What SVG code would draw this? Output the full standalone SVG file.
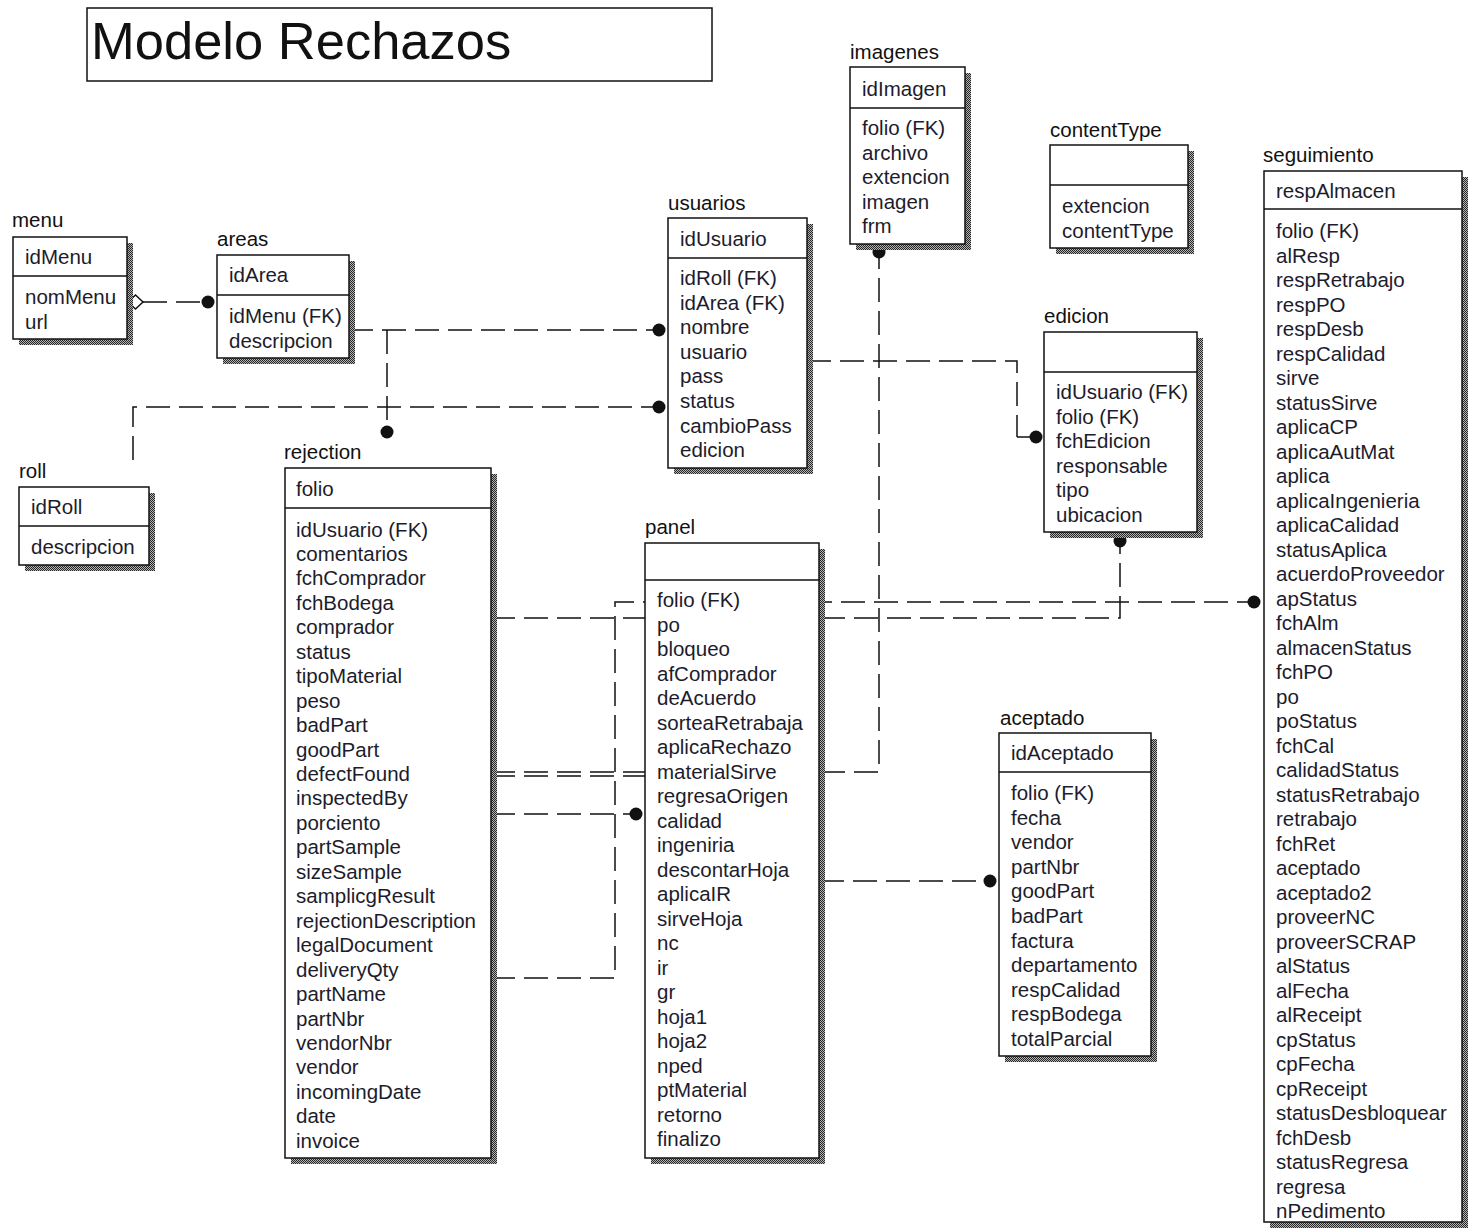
<svg xmlns="http://www.w3.org/2000/svg" width="1475" height="1232" viewBox="0 0 1475 1232">
  <defs>
    <!-- dithered drop shadow used behind every entity box -->
    <pattern id="dither" width="2" height="2" patternUnits="userSpaceOnUse">
      <rect width="2" height="2" fill="#b4b4b4"/>
      <rect width="1" height="1" fill="#262626"/>
      <rect x="1" y="1" width="1" height="1" fill="#262626"/>
    </pattern>
    <style>
      .box { fill: #ffffff; stroke: #111111; stroke-width: 1.5; }
      .sh { fill: url(#dither); }
      .div { stroke: #111111; stroke-width: 1.5; }
      .t { font-family: "Liberation Sans", Arial, sans-serif; font-size: 20.5px; fill: #1c1c2c; }
      .lbl { font-family: "Liberation Sans", Arial, sans-serif; font-size: 20.5px; fill: #111111; }
      .rel { fill: none; stroke: #111111; stroke-width: 1.5; stroke-dasharray: 24 9; }
      .dot { fill: #111111; }
      .dia { fill: #ffffff; stroke: #111111; stroke-width: 1.5; }
      .title { font-family: "Liberation Sans", Arial, sans-serif; font-size: 52.5px; fill: #111111; }
    </style>
  </defs>

  <rect width="1475" height="1232" fill="#ffffff"/>

  <!-- title -->
  <g id="title">
    <rect x="87" y="8" width="625" height="73" fill="#ffffff" stroke="#111111" stroke-width="1.5"/>
    <text class="title" x="91" y="59">Modelo Rechazos</text>
  </g>

  <!-- relationships -->
  <g id="connectors">
    <!-- menu -> areas -->
    <line class="rel" x1="143" y1="302" x2="203" y2="302"/>
    <polygon class="dia" points="128,302 135.5,295 143,302 135.5,309"/>
    <circle class="dot" cx="208" cy="302" r="6.5"/>
    <!-- areas -> usuarios -->
    <line class="rel" x1="349" y1="330" x2="654" y2="330"/>
    <circle class="dot" cx="659" cy="330" r="6.5"/>
    <!-- usuarios -> rejection -->
    <line class="rel" x1="387" y1="330" x2="387" y2="427"/>
    <circle class="dot" cx="387" cy="432" r="6.5"/>
    <!-- roll -> usuarios -->
    <polyline class="rel" points="133,460 133,407 654,407"/>
    <circle class="dot" cx="659" cy="407" r="6.5"/>
    <!-- usuarios -> edicion -->
    <polyline class="rel" points="807,361 1017,361 1017,437"/>
    <line x1="1017" y1="437" x2="1030" y2="437" stroke="#111111" stroke-width="1.5"/>
    <circle class="dot" cx="1036" cy="437" r="6.5"/>
    <!-- rejection -> imagenes -->
    <polyline class="rel" points="491,772 879,772 879,257"/>
    <circle class="dot" cx="879" cy="252" r="6.5"/>
    <line class="rel" x1="491" y1="776" x2="645" y2="776"/>
    <!-- rejection -> edicion -->
    <polyline class="rel" points="491,618 1120,618 1120,546"/>
    <circle class="dot" cx="1120" cy="541" r="6.5"/>
    <!-- rejection -> seguimiento -->
    <polyline class="rel" points="491,978 615,978 615,602 1249,602"/>
    <circle class="dot" cx="1254" cy="602" r="6.5"/>
    <!-- rejection -> panel -->
    <line class="rel" x1="491" y1="814" x2="631" y2="814"/>
    <circle class="dot" cx="636" cy="814" r="6.5"/>
    <!-- panel -> aceptado -->
    <line class="rel" x1="820" y1="881" x2="985" y2="881"/>
    <circle class="dot" cx="990" cy="881" r="6.5"/>
  </g>

  <!-- entities -->
  <g id="menu">
    <text class="lbl" x="12" y="227">menu</text>
    <rect class="sh" x="19" y="243" width="114" height="102"/>
    <rect class="box" x="13" y="237" width="114" height="102"/>
    <line class="div" x1="13" y1="276" x2="127" y2="276"/>
    <text class="t" x="25" y="264">idMenu</text>
    <text class="t" x="25" y="304">nomMenu<tspan x="25" dy="24.5">url</tspan></text>
  </g>

  <g id="areas">
    <text class="lbl" x="217" y="246">areas</text>
    <rect class="sh" x="223" y="261" width="132" height="103"/>
    <rect class="box" x="217" y="255" width="132" height="103"/>
    <line class="div" x1="217" y1="295" x2="349" y2="295"/>
    <text class="t" x="229" y="282">idArea</text>
    <text class="t" x="229" y="323">idMenu (FK)<tspan x="229" dy="24.5">descripcion</tspan></text>
  </g>

  <g id="roll">
    <text class="lbl" x="19" y="478">roll</text>
    <rect class="sh" x="25" y="493" width="130" height="78"/>
    <rect class="box" x="19" y="487" width="130" height="78"/>
    <line class="div" x1="19" y1="526" x2="149" y2="526"/>
    <text class="t" x="31" y="514">idRoll</text>
    <text class="t" x="31" y="554">descripcion</text>
  </g>

  <g id="usuarios">
    <text class="lbl" x="668" y="210">usuarios</text>
    <rect class="sh" x="674" y="224" width="139" height="250"/>
    <rect class="box" x="668" y="218" width="139" height="250"/>
    <line class="div" x1="668" y1="258" x2="807" y2="258"/>
    <text class="t" x="680" y="246">idUsuario</text>
    <text class="t" x="680" y="285">idRoll (FK)<tspan x="680" dy="24.6">idArea (FK)</tspan><tspan x="680" dy="24.6">nombre</tspan><tspan x="680" dy="24.6">usuario</tspan><tspan x="680" dy="24.6">pass</tspan><tspan x="680" dy="24.6">status</tspan><tspan x="680" dy="24.6">cambioPass</tspan><tspan x="680" dy="24.6">edicion</tspan></text>
  </g>

  <g id="imagenes">
    <text class="lbl" x="850" y="59">imagenes</text>
    <rect class="sh" x="856" y="73" width="115" height="177"/>
    <rect class="box" x="850" y="67" width="115" height="177"/>
    <line class="div" x1="850" y1="108" x2="965" y2="108"/>
    <text class="t" x="862" y="96">idImagen</text>
    <text class="t" x="862" y="135">folio (FK)<tspan x="862" dy="24.5">archivo</tspan><tspan x="862" dy="24.5">extencion</tspan><tspan x="862" dy="24.5">imagen</tspan><tspan x="862" dy="24.5">frm</tspan></text>
  </g>

  <g id="contentType">
    <text class="lbl" x="1050" y="137">contentType</text>
    <rect class="sh" x="1056" y="151" width="138" height="103"/>
    <rect class="box" x="1050" y="145" width="138" height="103"/>
    <line class="div" x1="1050" y1="185" x2="1188" y2="185"/>
    <text class="t" x="1062" y="213">extencion<tspan x="1062" dy="24.5">contentType</tspan></text>
  </g>

  <g id="edicion">
    <text class="lbl" x="1044" y="323">edicion</text>
    <rect class="sh" x="1050" y="338" width="153" height="200"/>
    <rect class="box" x="1044" y="332" width="153" height="200"/>
    <line class="div" x1="1044" y1="372" x2="1197" y2="372"/>
    <text class="t" x="1056" y="399">idUsuario (FK)<tspan x="1056" dy="24.6">folio (FK)</tspan><tspan x="1056" dy="24.6">fchEdicion</tspan><tspan x="1056" dy="24.6">responsable</tspan><tspan x="1056" dy="24.6">tipo</tspan><tspan x="1056" dy="24.6">ubicacion</tspan></text>
  </g>

  <g id="seguimiento">
    <text class="lbl" x="1263" y="162">seguimiento</text>
    <rect class="sh" x="1270" y="177" width="198" height="1051"/>
    <rect class="box" x="1264" y="171" width="198" height="1051"/>
    <line class="div" x1="1264" y1="209" x2="1462" y2="209"/>
    <text class="t" x="1276" y="198">respAlmacen</text>
    <text class="t" x="1276" y="238">folio (FK)<tspan x="1276" dy="24.5">alResp</tspan><tspan x="1276" dy="24.5">respRetrabajo</tspan><tspan x="1276" dy="24.5">respPO</tspan><tspan x="1276" dy="24.5">respDesb</tspan><tspan x="1276" dy="24.5">respCalidad</tspan><tspan x="1276" dy="24.5">sirve</tspan><tspan x="1276" dy="24.5">statusSirve</tspan><tspan x="1276" dy="24.5">aplicaCP</tspan><tspan x="1276" dy="24.5">aplicaAutMat</tspan><tspan x="1276" dy="24.5">aplica</tspan><tspan x="1276" dy="24.5">aplicaIngenieria</tspan><tspan x="1276" dy="24.5">aplicaCalidad</tspan><tspan x="1276" dy="24.5">statusAplica</tspan><tspan x="1276" dy="24.5">acuerdoProveedor</tspan><tspan x="1276" dy="24.5">apStatus</tspan><tspan x="1276" dy="24.5">fchAlm</tspan><tspan x="1276" dy="24.5">almacenStatus</tspan><tspan x="1276" dy="24.5">fchPO</tspan><tspan x="1276" dy="24.5">po</tspan><tspan x="1276" dy="24.5">poStatus</tspan><tspan x="1276" dy="24.5">fchCal</tspan><tspan x="1276" dy="24.5">calidadStatus</tspan><tspan x="1276" dy="24.5">statusRetrabajo</tspan><tspan x="1276" dy="24.5">retrabajo</tspan><tspan x="1276" dy="24.5">fchRet</tspan><tspan x="1276" dy="24.5">aceptado</tspan><tspan x="1276" dy="24.5">aceptado2</tspan><tspan x="1276" dy="24.5">proveerNC</tspan><tspan x="1276" dy="24.5">proveerSCRAP</tspan><tspan x="1276" dy="24.5">alStatus</tspan><tspan x="1276" dy="24.5">alFecha</tspan><tspan x="1276" dy="24.5">alReceipt</tspan><tspan x="1276" dy="24.5">cpStatus</tspan><tspan x="1276" dy="24.5">cpFecha</tspan><tspan x="1276" dy="24.5">cpReceipt</tspan><tspan x="1276" dy="24.5">statusDesbloquear</tspan><tspan x="1276" dy="24.5">fchDesb</tspan><tspan x="1276" dy="24.5">statusRegresa</tspan><tspan x="1276" dy="24.5">regresa</tspan><tspan x="1276" dy="24.5">nPedimento</tspan></text>
  </g>

  <g id="rejection">
    <text class="lbl" x="284" y="459">rejection</text>
    <rect class="sh" x="291" y="474" width="206" height="690"/>
    <rect class="box" x="285" y="468" width="206" height="690"/>
    <line class="div" x1="285" y1="508" x2="491" y2="508"/>
    <text class="t" x="296" y="496">folio</text>
    <text class="t" x="296" y="536.5">idUsuario (FK)<tspan x="296" dy="24.45">comentarios</tspan><tspan x="296" dy="24.45">fchComprador</tspan><tspan x="296" dy="24.45">fchBodega</tspan><tspan x="296" dy="24.45">comprador</tspan><tspan x="296" dy="24.45">status</tspan><tspan x="296" dy="24.45">tipoMaterial</tspan><tspan x="296" dy="24.45">peso</tspan><tspan x="296" dy="24.45">badPart</tspan><tspan x="296" dy="24.45">goodPart</tspan><tspan x="296" dy="24.45">defectFound</tspan><tspan x="296" dy="24.45">inspectedBy</tspan><tspan x="296" dy="24.45">porciento</tspan><tspan x="296" dy="24.45">partSample</tspan><tspan x="296" dy="24.45">sizeSample</tspan><tspan x="296" dy="24.45">samplicgResult</tspan><tspan x="296" dy="24.45">rejectionDescription</tspan><tspan x="296" dy="24.45">legalDocument</tspan><tspan x="296" dy="24.45">deliveryQty</tspan><tspan x="296" dy="24.45">partName</tspan><tspan x="296" dy="24.45">partNbr</tspan><tspan x="296" dy="24.45">vendorNbr</tspan><tspan x="296" dy="24.45">vendor</tspan><tspan x="296" dy="24.45">incomingDate</tspan><tspan x="296" dy="24.45">date</tspan><tspan x="296" dy="24.45">invoice</tspan></text>
  </g>

  <g id="panel">
    <text class="lbl" x="645" y="534">panel</text>
    <rect class="sh" x="651" y="549" width="174" height="615"/>
    <rect class="box" x="645" y="543" width="174" height="615"/>
    <line class="div" x1="645" y1="580" x2="819" y2="580"/>
    <text class="t" x="657" y="607">folio (FK)<tspan x="657" dy="24.5">po</tspan><tspan x="657" dy="24.5">bloqueo</tspan><tspan x="657" dy="24.5">afComprador</tspan><tspan x="657" dy="24.5">deAcuerdo</tspan><tspan x="657" dy="24.5">sorteaRetrabaja</tspan><tspan x="657" dy="24.5">aplicaRechazo</tspan><tspan x="657" dy="24.5">materialSirve</tspan><tspan x="657" dy="24.5">regresaOrigen</tspan><tspan x="657" dy="24.5">calidad</tspan><tspan x="657" dy="24.5">ingeniria</tspan><tspan x="657" dy="24.5">descontarHoja</tspan><tspan x="657" dy="24.5">aplicaIR</tspan><tspan x="657" dy="24.5">sirveHoja</tspan><tspan x="657" dy="24.5">nc</tspan><tspan x="657" dy="24.5">ir</tspan><tspan x="657" dy="24.5">gr</tspan><tspan x="657" dy="24.5">hoja1</tspan><tspan x="657" dy="24.5">hoja2</tspan><tspan x="657" dy="24.5">nped</tspan><tspan x="657" dy="24.5">ptMaterial</tspan><tspan x="657" dy="24.5">retorno</tspan><tspan x="657" dy="24.5">finalizo</tspan></text>
  </g>

  <g id="aceptado">
    <text class="lbl" x="1000" y="725">aceptado</text>
    <rect class="sh" x="1005" y="739" width="152" height="323"/>
    <rect class="box" x="999" y="733" width="152" height="323"/>
    <line class="div" x1="999" y1="772" x2="1151" y2="772"/>
    <text class="t" x="1011" y="760">idAceptado</text>
    <text class="t" x="1011" y="800">folio (FK)<tspan x="1011" dy="24.6">fecha</tspan><tspan x="1011" dy="24.6">vendor</tspan><tspan x="1011" dy="24.6">partNbr</tspan><tspan x="1011" dy="24.6">goodPart</tspan><tspan x="1011" dy="24.6">badPart</tspan><tspan x="1011" dy="24.6">factura</tspan><tspan x="1011" dy="24.6">departamento</tspan><tspan x="1011" dy="24.6">respCalidad</tspan><tspan x="1011" dy="24.6">respBodega</tspan><tspan x="1011" dy="24.6">totalParcial</tspan></text>
  </g>
</svg>
